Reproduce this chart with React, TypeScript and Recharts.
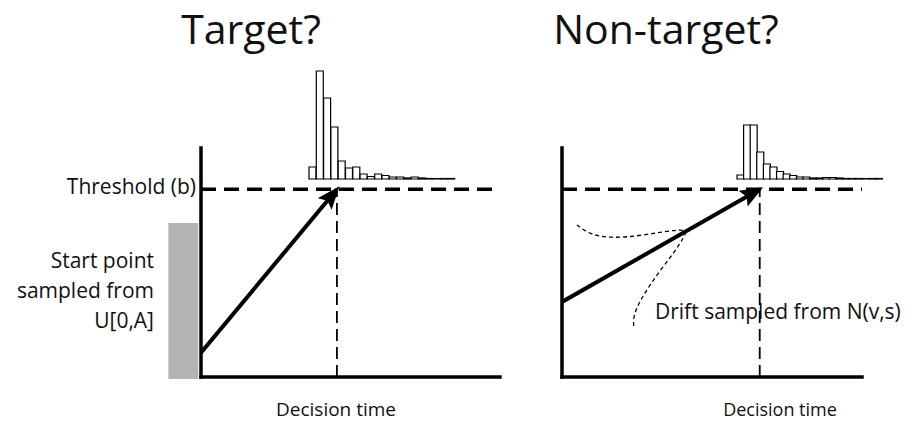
import {
  ComposedChart, BarChart, Bar, Line, XAxis, YAxis,
  ReferenceLine, ReferenceArea,
} from "recharts";

// evidence units: threshold b = 1, time axis 0..2.2
const THRESHOLD = 1;
const START_MAX = 0.82; // A
const TIME_MAX = 2.2;
const EVIDENCE_MAX = 1.22;

const targetStart = 0.13;
const targetDecision = 1.0;
const nontargetStart = 0.4;
const nontargetDecision = 1.45;

// finishing-time histograms (counts per bin)
const targetHist = [12, 108, 81, 52, 18, 11, 12, 5, 2.5, 5, 3.5, 2, 2, 1, 2, 1, 0.5, 0.5, 0.5, 0.5];
const nontargetHist = [4, 54, 54, 27, 15, 12, 7.5, 5, 3.5, 2, 2, 1, 1, 1.5, 1.5, 1, 0.5, 0.5, 0.5, 0.5, 0.5, 0.5];

// sideways drift-rate density sketch (time, evidence)
const driftT = [0.11, 0.2, 0.35, 0.55, 0.75, 0.92, 0.9, 0.82, 0.7, 0.6, 0.54, 0.52, 0.53];
const driftV = [0.81, 0.76, 0.74, 0.75, 0.775, 0.79, 0.75, 0.66, 0.55, 0.44, 0.36, 0.3, 0.26];

const FONT = "'Open Sans', sans-serif";
const W = 912;
const H = 423;

const driftData = driftT.map((t, i) => ({ t, v: driftV[i] }));

interface PanelProps {
  left: number;
  right: number;
  start: number;
  decision: number;
  startBox?: boolean;
  drift?: boolean;
}

function Accumulator({ left, right, start, decision, startBox, drift }: PanelProps) {
  const path = [{ t: 0, v: start }, { t: decision, v: THRESHOLD }];
  return (
    <div style={{ position: "absolute", left: 0, top: 0 }}>
      <ComposedChart width={W} height={H} margin={{ top: 148, left, right, bottom: 46 }}>
        <XAxis dataKey="t" type="number" domain={[0, TIME_MAX]} allowDataOverflow hide />
        <YAxis dataKey="v" type="number" domain={[0, EVIDENCE_MAX]} allowDataOverflow hide />
        {startBox && (
          <ReferenceArea
            x1={-0.24} x2={-0.02} y1={-0.01} y2={START_MAX}
            fill="#b3b3b3" fillOpacity={1} stroke="none" ifOverflow="visible"
          />
        )}
        {/* axes */}
        <ReferenceLine x={0} stroke="#000" strokeWidth={3.5} strokeLinecap="square" ifOverflow="visible" />
        <ReferenceLine y={0} stroke="#000" strokeWidth={3.5} strokeLinecap="square" ifOverflow="visible" />
        <ReferenceLine y={THRESHOLD} stroke="#000" strokeWidth={3.5} strokeDasharray="15 8" />
        <ReferenceLine
          segment={[{ x: decision, y: 0 }, { x: decision, y: THRESHOLD }]}
          stroke="#000" strokeWidth={1.8} strokeDasharray="12 6"
        />
        {drift && (
          <Line
            data={driftData} dataKey="v" type="basis" stroke="#000" strokeWidth={1.3}
            strokeDasharray="4 3" dot={false} isAnimationActive={false}
          />
        )}
        <Line
          data={path} dataKey="v" type="linear" stroke="#000" strokeWidth={4}
          dot={false} isAnimationActive={false} markerEnd="url(#arrowhead)"
        />
      </ComposedChart>
    </div>
  );
}

function Histogram({ counts, left, width }: { counts: number[]; left: number; width: number }) {
  const data = counts.map((c, i) => ({ bin: i, count: c }));
  return (
    <div style={{ position: "absolute", left: left - 2, top: 59 }}>
      <BarChart
        width={width + 4} height={121} data={data}
        margin={{ top: 0, left: 2, right: 2, bottom: 1 }}
        barCategoryGap={0} barGap={0}
      >
        <XAxis dataKey="bin" hide />
        <YAxis type="number" domain={[0, 120]} hide />
        <Bar dataKey="count" fill="#fff" stroke="#000" strokeWidth={1.2} isAnimationActive={false} />
      </BarChart>
    </div>
  );
}

export default function App() {
  return (
    <div style={{ position: "absolute", left: 0, top: 0, width: W, height: H, background: "#fff", overflow: "hidden" }}>
      <svg width={W} height={H} style={{ position: "absolute", left: 0, top: 0 }}>
        <defs>
          <marker
            id="arrowhead" markerUnits="userSpaceOnUse" markerWidth={26} markerHeight={20}
            refX={19} refY={9} orient="auto"
          >
            <path d="M0,0 L23,9 L0,18 L4,9 z" fill="#000" />
          </marker>
        </defs>
        <g fontFamily={FONT} fill="#111">
          <text x={251} y={44} fontSize={41} textAnchor="middle">Target?</text>
          <text x={666} y={44} fontSize={41} textAnchor="middle">Non-target?</text>
          <text x={196} y={194} fontSize={21} textAnchor="end">Threshold (b)</text>
          <text x={154} y={268} fontSize={21} textAnchor="end">Start point</text>
          <text x={154} y={298} fontSize={21} textAnchor="end">sampled from</text>
          <text x={154} y={328} fontSize={21} textAnchor="end">U[0,A]</text>
          <text x={336} y={416} fontSize={19} textAnchor="middle">Decision time</text>
          <text x={780} y={416} fontSize={18} textAnchor="middle">Decision time</text>
          <text x={655} y={319} fontSize={21}>Drift sampled from N(v,s)</text>
        </g>
      </svg>
      <Histogram counts={targetHist} left={309} width={146} />
      <Histogram counts={nontargetHist} left={737} width={145} />
      <Accumulator left={201} right={412} start={targetStart} decision={targetDecision} startBox />
      <Accumulator left={562} right={50} start={nontargetStart} decision={nontargetDecision} drift />
    </div>
  );
}
